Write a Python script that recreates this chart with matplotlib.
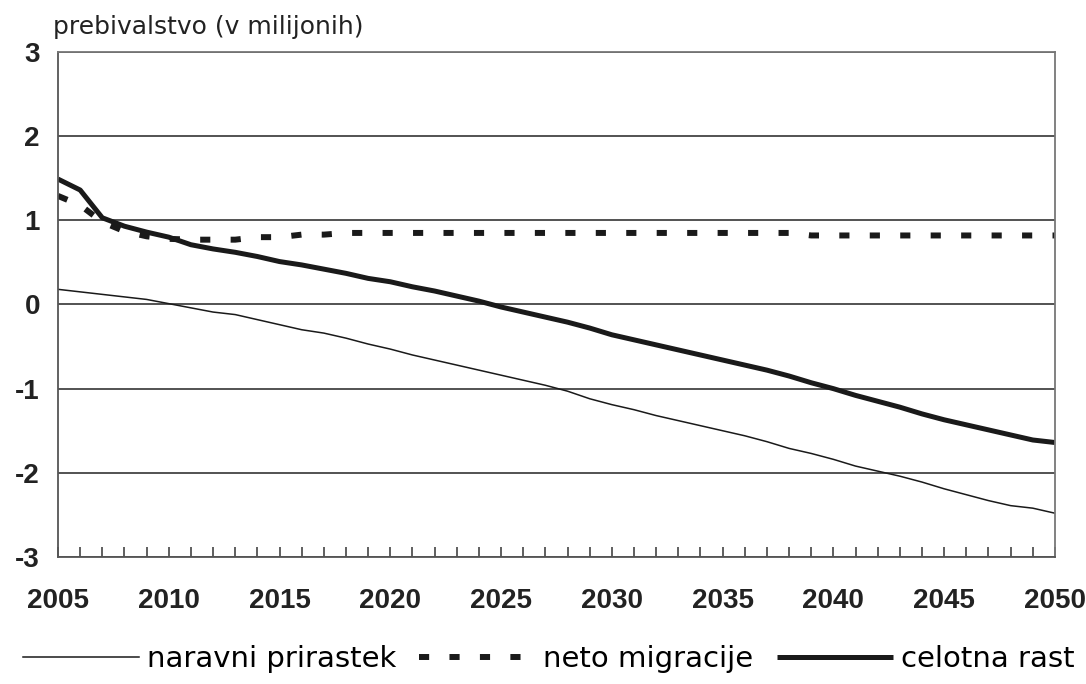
import matplotlib
matplotlib.use("Agg")
import matplotlib.pyplot as plt
import numpy as np

plt.rcParams["axes.unicode_minus"] = False

years = list(range(2005, 2051))
naravni_prirastek = [0.18, 0.15, 0.12, 0.09, 0.06, 0.01, -0.04, -0.09, -0.12, -0.18,
                     -0.24, -0.30, -0.34, -0.40, -0.47, -0.53, -0.60, -0.66, -0.72, -0.78,
                     -0.84, -0.90, -0.96, -1.03, -1.12, -1.19, -1.25, -1.32, -1.38, -1.44,
                     -1.50, -1.56, -1.63, -1.71, -1.77, -1.84, -1.92, -1.98, -2.04, -2.11,
                     -2.19, -2.26, -2.33, -2.39, -2.42, -2.48]
neto_migracije = [1.29, 1.18, 0.98, 0.87, 0.81, 0.78, 0.77, 0.77, 0.77, 0.80,
                  0.80, 0.83, 0.83, 0.85, 0.85, 0.85, 0.85, 0.85, 0.85, 0.85,
                  0.85, 0.85, 0.85, 0.85, 0.85, 0.85, 0.85, 0.85, 0.85, 0.85,
                  0.85, 0.85, 0.85, 0.85, 0.82, 0.82, 0.82, 0.82, 0.82, 0.82,
                  0.82, 0.82, 0.82, 0.82, 0.82, 0.82]
celotna_rast = [1.49, 1.36, 1.03, 0.93, 0.86, 0.80, 0.71, 0.66, 0.62, 0.57,
                0.51, 0.47, 0.42, 0.37, 0.31, 0.27, 0.21, 0.16, 0.10, 0.04,
                -0.03, -0.09, -0.15, -0.21, -0.28, -0.36, -0.42, -0.48, -0.54, -0.60,
                -0.66, -0.72, -0.78, -0.85, -0.93, -1.00, -1.08, -1.15, -1.22, -1.30,
                -1.37, -1.43, -1.49, -1.55, -1.61, -1.64]
labels = ["naravni prirastek", "neto migracije", "celotna rast"]
y_ticks = [-3, -2, -1, 0, 1, 2, 3]
x_ticks = list(range(2005, 2051, 5))

fig = plt.figure(figsize=(10.86, 6.84), dpi=100)
ax = fig.add_axes([0.0534, 0.1857, 0.918, 0.7383])

ax.set_xlim(2005, 2050)
ax.set_ylim(-3, 3)
ax.set_yticks(y_ticks)
ax.set_xticks(x_ticks)
ax.set_xticks(years, minor=True)
ax.yaxis.grid(True, color="#444444", linewidth=1.3)
ax.set_axisbelow(True)
for s in ax.spines.values():
    s.set_color("#777777")
    s.set_linewidth(1.3)
ax.spines["left"].set_color("#555555")
ax.spines["bottom"].set_color("#555555")

l1, = ax.plot(years, naravni_prirastek, color="#1a1a1a", linewidth=1.1, label=labels[0])
l2, = ax.plot(years, neto_migracije, color="#1a1a1a", linewidth=4.3, dashes=(1.7, 3.4),
              dash_capstyle="butt", label=labels[1])
l3, = ax.plot(years, celotna_rast, color="#1a1a1a", linewidth=3.6, label=labels[2],
              solid_capstyle="butt")

ax.tick_params(axis="y", length=0, pad=13, labelsize=20, colors="#222222")
ax.tick_params(axis="x", which="major", length=0, pad=22, labelsize=20, colors="#222222")
ax.tick_params(axis="x", which="minor", direction="in", length=7, width=1.2, color="#444444")
ax.tick_params(axis="x", which="major", direction="in", length=7, width=1.2, color="#444444")
for t in ax.get_xticklabels() + ax.get_yticklabels():
    t.set_fontweight("bold")
    t.set_family("Liberation Sans")

fig.text(0.049, 0.943, "prebivalstvo (v milijonih)", fontsize=18, color="#222222",
         family="DejaVu Sans", va="bottom", ha="left")

fig.legend(handles=[l1, l2, l3], labels=labels, loc="lower center",
           bbox_to_anchor=(0.505, -0.022), ncol=3, frameon=False,
           handlelength=4.0, handletextpad=0.25, columnspacing=0.8,
           prop={"family": "DejaVu Sans", "size": 21})

fig.savefig("out.png", dpi=100)
